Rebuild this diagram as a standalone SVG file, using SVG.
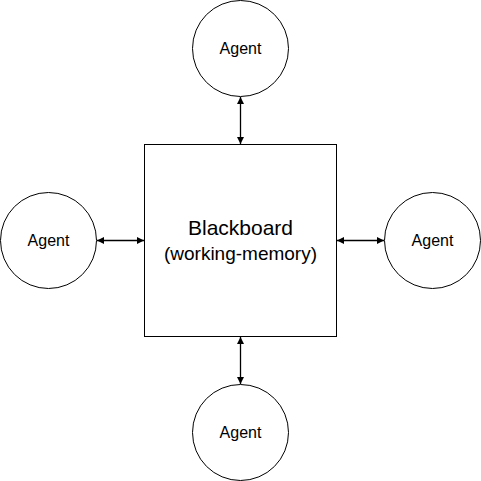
<svg xmlns="http://www.w3.org/2000/svg" width="481" height="481" viewBox="0 0 481 481">
<style>
.n{fill:#fff;stroke:#000;stroke-width:1}
.t{font-family:"Liberation Sans",Arial,sans-serif;fill:#000;text-anchor:middle}
.a{font-size:16px}
.c{stroke:#000;stroke-width:1.3;fill:none;marker-start:url(#ah);marker-end:url(#ah)}
</style>
<defs>
<marker id="ah" viewBox="0 0 10 10" refX="10" refY="5" markerWidth="8" markerHeight="7" markerUnits="userSpaceOnUse" orient="auto-start-reverse">
<path d="M0,0L10,5L0,10z" fill="#000"/>
</marker>
</defs>
<rect width="481" height="481" fill="#fff"/>
<g id="connectors">
<line class="c" x1="240.5" y1="97" x2="240.5" y2="144"/>
<line class="c" x1="97" y1="240.5" x2="144" y2="240.5"/>
<line class="c" x1="337" y1="240.5" x2="384" y2="240.5"/>
<line class="c" x1="240.5" y1="337" x2="240.5" y2="384"/>
</g>
<g id="blackboard">
<rect class="n" x="144.5" y="144.5" width="192" height="192"/>
<text class="t" x="240.5" y="235" font-size="21">Blackboard</text>
<text class="t" x="240.5" y="260" font-size="19">(working-memory)</text>
</g>
<g id="agent-top">
<circle class="n" cx="240.5" cy="48.5" r="48"/>
<text class="t a" x="240.5" y="54">Agent</text>
</g>
<g id="agent-left">
<circle class="n" cx="48.5" cy="240.5" r="48"/>
<text class="t a" x="48.5" y="246">Agent</text>
</g>
<g id="agent-right">
<circle class="n" cx="432.5" cy="240.5" r="48"/>
<text class="t a" x="432.5" y="246">Agent</text>
</g>
<g id="agent-bottom">
<circle class="n" cx="240.5" cy="432.5" r="48"/>
<text class="t a" x="240.5" y="438">Agent</text>
</g>
</svg>
